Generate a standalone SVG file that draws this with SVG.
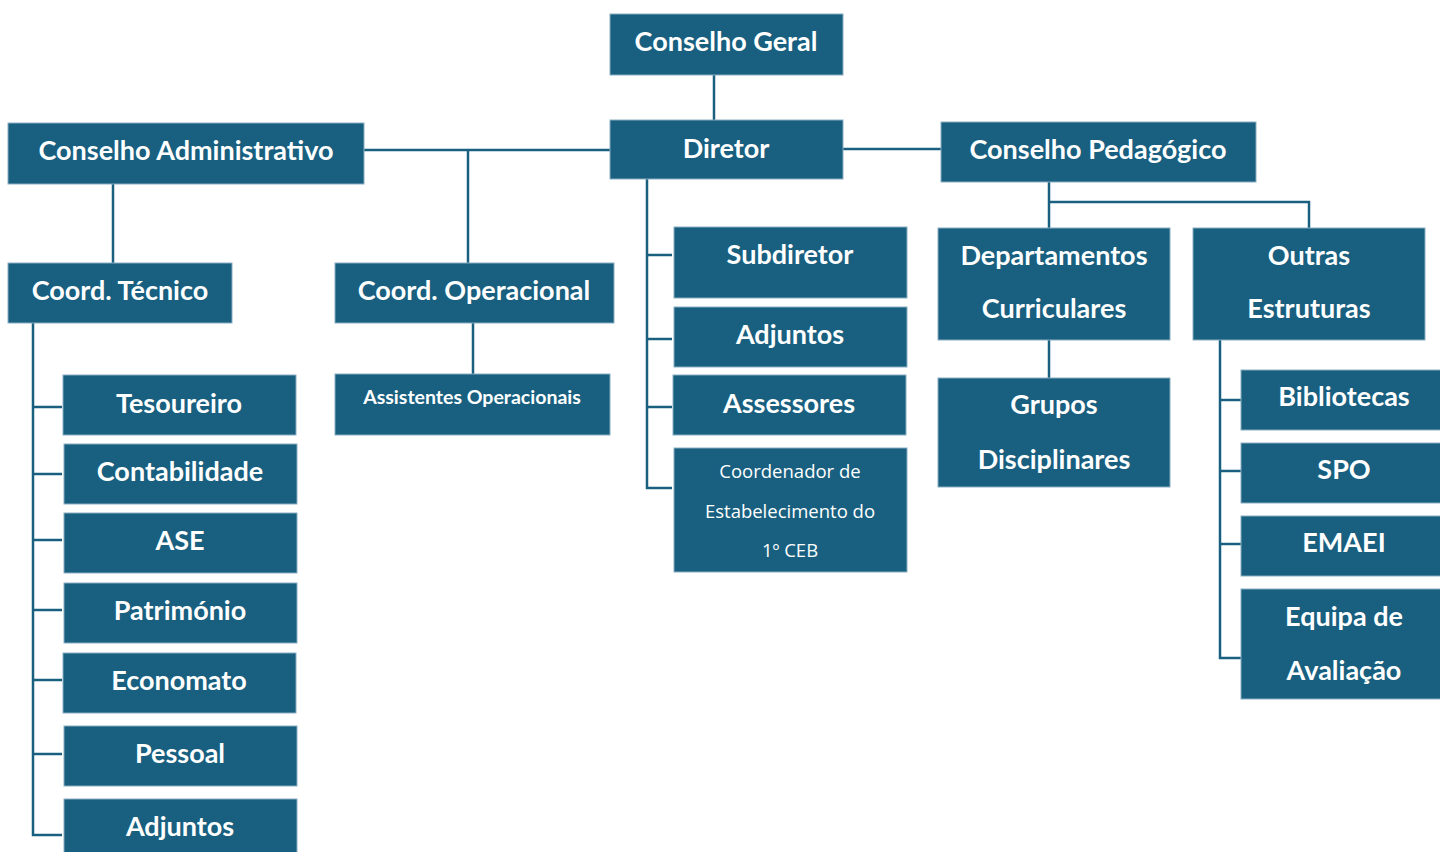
<svg xmlns="http://www.w3.org/2000/svg" width="1440" height="852" viewBox="0 0 1440 852">
  <style>
    .box { fill: #185F80; stroke: #8AAEC2; stroke-width: 1; }
    .t { fill: #ffffff; font-family: Lato, "Open Sans", "Liberation Sans", sans-serif; font-weight: bold; font-size: 27px; text-anchor: middle; }
    .s { fill: #ffffff; font-family: Lato, "Open Sans", "Liberation Sans", sans-serif; font-weight: bold; font-size: 19.5px; text-anchor: middle; }
    .r { fill: #ffffff; font-family: "Open Sans", "Liberation Sans", sans-serif; font-weight: normal; font-size: 18.5px; text-anchor: middle; }
    .ln { fill: none; stroke: #185F80; stroke-width: 2.5; }
  </style>
  <rect width="1440" height="852" fill="#ffffff"/>

  <!-- connectors -->
  <g id="connectors" class="ln">
    <path d="M714 75 V120"/>
    <path d="M364 150 H610"/>
    <path d="M468 150 V263"/>
    <path d="M843 149 H941"/>
    <path d="M113 184 V263"/>
    <path d="M473 323 V374"/>
    <!-- Coord. Técnico branch -->
    <path d="M33 323 V835 H62"/>
    <path d="M33 407 H62 M33 474 H62 M33 540 H62 M33 610 H62 M33 680 H62 M33 754 H62"/>
    <!-- Diretor branch -->
    <path d="M647 179 V488 H672"/>
    <path d="M647 255 H672 M647 339 H672 M647 407 H672"/>
    <!-- Conselho Pedagógico branch -->
    <path d="M1049 182 V228"/>
    <path d="M1049 202 H1309 V228"/>
    <path d="M1049 340 V378"/>
    <!-- Outras Estruturas branch -->
    <path d="M1220 340 V658 H1241"/>
    <path d="M1220 400 H1241 M1220 471 H1241 M1220 544 H1241"/>
  </g>

  <g id="conselho-geral"><rect class="box" x="610" y="14" width="233" height="61"/><text class="t" x="726" y="51">Conselho Geral</text></g>
  <g id="diretor"><rect class="box" x="610" y="120" width="233" height="59"/><text class="t" x="726" y="158">Diretor</text></g>
  <g id="conselho-administrativo"><rect class="box" x="8" y="123" width="356" height="61"/><text class="t" x="186" y="160">Conselho Administrativo</text></g>
  <g id="conselho-pedagogico"><rect class="box" x="941" y="122" width="315" height="60"/><text class="t" x="1098" y="159">Conselho Pedagógico</text></g>

  <g id="coord-tecnico"><rect class="box" x="8" y="263" width="224" height="60"/><text class="t" x="120" y="300">Coord. Técnico</text></g>
  <g id="coord-operacional"><rect class="box" x="335" y="263" width="279" height="60"/><text class="t" x="474" y="300">Coord. Operacional</text></g>
  <g id="assistentes-operacionais"><rect class="box" x="335" y="374" width="275" height="61"/><text class="s" x="472" y="404">Assistentes Operacionais</text></g>

  <g id="tesoureiro"><rect class="box" x="63" y="375" width="233" height="60"/><text class="t" x="179" y="413">Tesoureiro</text></g>
  <g id="contabilidade"><rect class="box" x="64" y="444" width="233" height="60"/><text class="t" x="180" y="481">Contabilidade</text></g>
  <g id="ase"><rect class="box" x="64" y="513" width="233" height="60"/><text class="t" x="180" y="550">ASE</text></g>
  <g id="patrimonio"><rect class="box" x="64" y="583" width="233" height="60"/><text class="t" x="180" y="620">Património</text></g>
  <g id="economato"><rect class="box" x="63" y="653" width="233" height="60"/><text class="t" x="179" y="690">Economato</text></g>
  <g id="pessoal"><rect class="box" x="64" y="726" width="233" height="60"/><text class="t" x="180" y="763">Pessoal</text></g>
  <g id="adjuntos-admin"><rect class="box" x="64" y="799" width="233" height="60"/><text class="t" x="180" y="836">Adjuntos</text></g>

  <g id="subdiretor"><rect class="box" x="674" y="227" width="233" height="71"/><text class="t" x="790" y="264">Subdiretor</text></g>
  <g id="adjuntos-diretor"><rect class="box" x="674" y="307" width="233" height="60"/><text class="t" x="790" y="344">Adjuntos</text></g>
  <g id="assessores"><rect class="box" x="673" y="375" width="233" height="60"/><text class="t" x="789" y="413">Assessores</text></g>
  <g id="coordenador-1ceb"><rect class="box" x="674" y="448" width="233" height="124"/>
    <text class="r" x="790" y="478">Coordenador de</text>
    <text class="r" x="790" y="518">Estabelecimento do</text>
    <text class="r" x="790" y="557">1º CEB</text>
  </g>

  <g id="departamentos-curriculares"><rect class="box" x="938" y="228" width="232" height="112"/>
    <text class="t" x="1054" y="265">Departamentos</text>
    <text class="t" x="1054" y="318">Curriculares</text>
  </g>
  <g id="outras-estruturas"><rect class="box" x="1193" y="228" width="232" height="112"/>
    <text class="t" x="1309" y="265">Outras</text>
    <text class="t" x="1309" y="318">Estruturas</text>
  </g>
  <g id="grupos-disciplinares"><rect class="box" x="938" y="378" width="232" height="109"/>
    <text class="t" x="1054" y="414">Grupos</text>
    <text class="t" x="1054" y="469">Disciplinares</text>
  </g>

  <g id="bibliotecas"><rect class="box" x="1241" y="370" width="205" height="60"/><text class="t" x="1344" y="406">Bibliotecas</text></g>
  <g id="spo"><rect class="box" x="1241" y="443" width="205" height="60"/><text class="t" x="1344" y="479">SPO</text></g>
  <g id="emaei"><rect class="box" x="1241" y="516" width="205" height="60"/><text class="t" x="1344" y="552">EMAEI</text></g>
  <g id="equipa-avaliacao"><rect class="box" x="1241" y="589" width="205" height="110"/>
    <text class="t" x="1344" y="626">Equipa de</text>
    <text class="t" x="1344" y="680">Avaliação</text>
  </g>
</svg>
